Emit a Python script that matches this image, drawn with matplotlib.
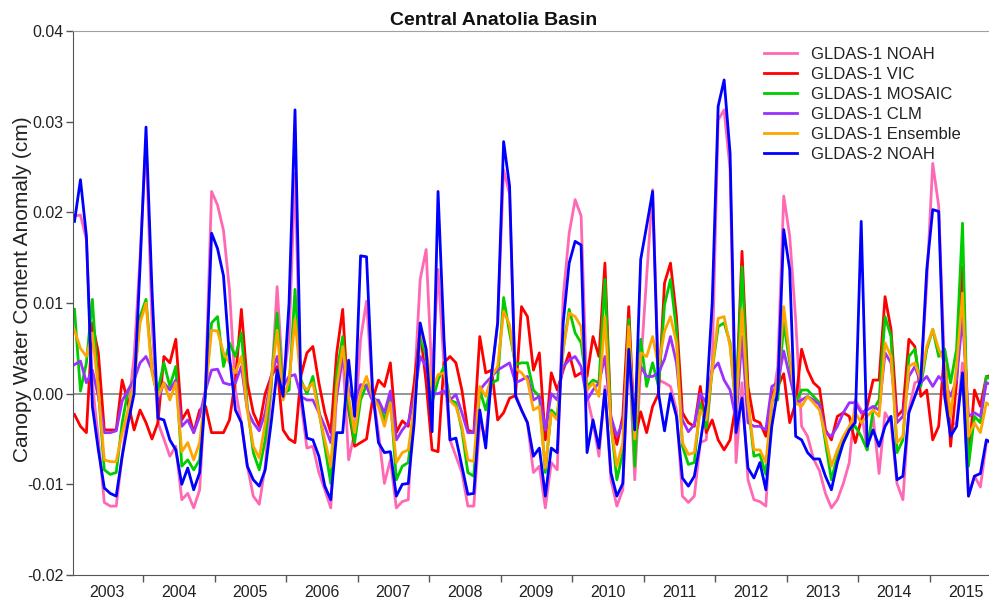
import numpy as np
import matplotlib.pyplot as plt

plt.rcParams['font.family'] = ['Liberation Sans', 'DejaVu Sans']

# monthly canopy water content anomalies (cm), Jan 2003 onwards
years = ['2003', '2004', '2005', '2006', '2007', '2008', '2009',
         '2010', '2011', '2012', '2013', '2014', '2015']

noah1 = [0.0196, 0.0197, 0.0170, 0.0012, -0.0050, -0.0120, -0.0124, -0.0124, -0.0069, -0.0018,
         0.0041, 0.0150, 0.0280, 0.0078, -0.0032, -0.0050, -0.0069, -0.0058, -0.0117, -0.0110,
         -0.0126, -0.0106, 0.0012, 0.0223, 0.0208, 0.0180, 0.0115, 0.0004, -0.0032, -0.0080,
         -0.0113, -0.0122, -0.0080, 0.0004, 0.0118, 0.0012, 0.0060, 0.0243, -0.0010, -0.0060,
         -0.0058, -0.0087, -0.0106, -0.0126, 0.0004, 0.0045, -0.0073, -0.0043, 0.0060, 0.0102,
         0.0004, -0.0043, -0.0099, -0.0073, -0.0126, -0.0119, -0.0117, 0.0004, 0.0126, 0.0159,
         0.0015, 0.0137, 0.0030, -0.0051, -0.0069, -0.0087, -0.0124, -0.0124, -0.0032, -0.0047,
         0.0019, 0.0078, 0.0247, 0.0220, 0.0000, -0.0018, -0.0032, -0.0087, -0.0080, -0.0126,
         -0.0076, -0.0084, 0.0107, 0.0177, 0.0214, 0.0196, -0.0003, -0.0032, -0.0069, 0.0008,
         -0.0095, -0.0124, -0.0106, 0.0056, -0.0095, 0.0030, 0.0129, 0.0225, 0.0015, 0.0012,
         0.0008, -0.0018, -0.0113, -0.0120, -0.0113, -0.0054, -0.0051, 0.0034, 0.0302, 0.0313,
         0.0247, -0.0076, 0.0012, -0.0095, -0.0117, -0.0119, -0.0124, -0.0014, 0.0030, 0.0218,
         0.0174, 0.0082, -0.0036, -0.0047, -0.0072, -0.0085, -0.0110, -0.0126, -0.0117, -0.0099,
         -0.0076, -0.0007, -0.0018, -0.0062, -0.0025, -0.0088, -0.0021, -0.0032, -0.0099, -0.0117,
         -0.0018, 0.0012, 0.0015, 0.0122, 0.0254, 0.0207, 0.0026, -0.0036, -0.0032, 0.0034,
         -0.0113, -0.0091, -0.0103, -0.0054, -0.0050]

vic = [-0.0023, -0.0036, -0.0043, 0.0078, 0.0045, -0.0040, -0.0040, -0.0040, 0.0015, -0.0010,
       -0.0040, -0.0018, -0.0032, -0.0050, -0.0032, 0.0041, 0.0034, 0.0060, -0.0029, -0.0018,
       -0.0043, -0.0018, -0.0014, -0.0043, -0.0043, -0.0043, -0.0029, 0.0015, 0.0093, 0.0012,
       -0.0021, -0.0036, 0.0000, 0.0019, 0.0030, -0.0040, -0.0050, -0.0054, 0.0020, 0.0045,
       0.0052, 0.0012, -0.0021, -0.0043, 0.0045, 0.0093, -0.0018, -0.0058, -0.0054, -0.0050,
       -0.0007, 0.0015, 0.0008, 0.0034, -0.0043, -0.0030, -0.0036, 0.0012, 0.0070, 0.0012,
       -0.0062, -0.0064, 0.0034, 0.0041, 0.0034, 0.0004, -0.0040, -0.0043, 0.0063, 0.0023,
       0.0026, -0.0029, -0.0021, -0.0005, -0.0002, 0.0096, 0.0085, 0.0026, 0.0045, -0.0051,
       0.0023, 0.0004, 0.0026, 0.0045, 0.0019, 0.0023, 0.0019, 0.0063, 0.0041, 0.0144,
       -0.0029, -0.0056, -0.0025, 0.0096, -0.0050, -0.0020, -0.0043, -0.0014, 0.0000, 0.0122,
       0.0144, 0.0085, -0.0021, -0.0032, -0.0036, 0.0008, -0.0043, -0.0029, -0.0051, -0.0062,
       -0.0051, -0.0010, 0.0157, 0.0008, -0.0029, -0.0032, -0.0047, 0.0000, 0.0008, 0.0022,
       -0.0032, -0.0010, 0.0049, 0.0026, 0.0012, 0.0006, -0.0040, -0.0051, -0.0025, -0.0021,
       -0.0025, -0.0054, -0.0029, -0.0014, 0.0015, 0.0015, 0.0107, 0.0071, -0.0025, -0.0018,
       0.0060, 0.0052, -0.0003, 0.0004, -0.0051, -0.0036, 0.0049, -0.0058, 0.0012, 0.0140,
       -0.0076, 0.0004, -0.0014, 0.0019, 0.0020]

mosaic = [0.0093, 0.0003, 0.0034, 0.0104, 0.0004, -0.0084, -0.0089, -0.0087, -0.0032, 0.0004,
          0.0015, 0.0085, 0.0104, 0.0026, 0.0004, 0.0034, 0.0008, 0.0030, -0.0080, -0.0073,
          -0.0084, -0.0073, 0.0004, 0.0078, 0.0085, 0.0030, 0.0056, 0.0041, 0.0067, -0.0014,
          -0.0065, -0.0084, -0.0051, 0.0012, 0.0089, 0.0000, 0.0004, 0.0115, 0.0015, 0.0000,
          0.0019, -0.0018, -0.0058, -0.0099, 0.0023, 0.0063, -0.0014, -0.0054, -0.0007, 0.0010,
          -0.0003, -0.0010, -0.0029, -0.0003, -0.0095, -0.0080, -0.0076, -0.0018, 0.0063, 0.0041,
          -0.0010, 0.0015, 0.0030, -0.0007, -0.0010, -0.0040, -0.0087, -0.0091, 0.0004, -0.0018,
          0.0012, 0.0015, 0.0106, 0.0067, 0.0032, 0.0034, 0.0034, 0.0004, -0.0003, -0.0087,
          -0.0018, -0.0025, 0.0049, 0.0093, 0.0067, 0.0056, 0.0008, 0.0015, 0.0012, 0.0126,
          -0.0032, -0.0095, -0.0065, 0.0082, -0.0080, 0.0060, 0.0008, 0.0034, 0.0008, 0.0098,
          0.0126, 0.0070, -0.0058, -0.0078, -0.0076, -0.0010, -0.0038, 0.0026, 0.0074, 0.0078,
          0.0056, -0.0018, 0.0140, -0.0010, -0.0069, -0.0067, -0.0089, -0.0007, -0.0007, 0.0078,
          0.0034, -0.0010, 0.0004, 0.0004, -0.0003, -0.0010, -0.0054, -0.0095, -0.0069, -0.0054,
          -0.0040, -0.0036, -0.0047, -0.0062, -0.0018, -0.0007, 0.0085, 0.0063, -0.0065, -0.0051,
          0.0041, 0.0049, 0.0008, 0.0049, 0.0071, 0.0041, 0.0049, 0.0012, 0.0049, 0.0188,
          -0.0080, -0.0025, -0.0032, 0.0019, 0.0015]

clm = [0.0032, 0.0036, 0.0012, 0.0026, -0.0003, -0.0043, -0.0043, -0.0041, -0.0008, 0.0004,
       0.0015, 0.0034, 0.0041, 0.0026, -0.0007, 0.0012, 0.0004, 0.0015, -0.0036, -0.0029,
       -0.0043, -0.0025, 0.0004, 0.0026, 0.0027, 0.0012, 0.0010, 0.0012, 0.0030, -0.0018,
       -0.0032, -0.0041, -0.0021, 0.0019, 0.0041, 0.0008, 0.0019, 0.0021, -0.0003, -0.0007,
       -0.0007, -0.0021, -0.0036, -0.0054, -0.0003, 0.0041, 0.0004, -0.0010, 0.0010, 0.0008,
       -0.0008, -0.0007, -0.0021, 0.0003, -0.0051, -0.0040, -0.0032, -0.0003, 0.0041, 0.0030,
       0.0000, 0.0000, 0.0003, -0.0007, -0.0001, -0.0021, -0.0043, -0.0043, 0.0004, 0.0012,
       0.0019, 0.0026, 0.0030, 0.0034, 0.0012, 0.0015, 0.0019, -0.0007, -0.0003, -0.0040,
       0.0000, -0.0007, 0.0030, 0.0037, 0.0041, 0.0030, -0.0007, 0.0004, 0.0012, 0.0041,
       -0.0025, -0.0047, -0.0032, 0.0056, -0.0030, 0.0030, 0.0019, 0.0019, 0.0023, 0.0038,
       0.0063, 0.0034, -0.0029, -0.0042, -0.0034, 0.0000, -0.0010, 0.0026, 0.0034, 0.0015,
       0.0004, -0.0029, 0.0063, -0.0032, -0.0036, -0.0036, -0.0040, 0.0008, 0.0012, 0.0047,
       0.0019, -0.0010, -0.0007, -0.0003, -0.0007, -0.0012, -0.0043, -0.0047, -0.0036, -0.0021,
       -0.0010, -0.0010, -0.0021, -0.0018, -0.0014, -0.0018, 0.0045, 0.0034, -0.0032, -0.0025,
       0.0019, 0.0030, 0.0012, 0.0019, 0.0008, 0.0019, 0.0012, -0.0003, 0.0015, 0.0085,
       -0.0025, -0.0021, -0.0025, 0.0012, 0.0010]

ensemble = [0.0070, 0.0050, 0.0041, 0.0067, 0.0004, -0.0073, -0.0075, -0.0075, -0.0043, -0.0018,
            0.0012, 0.0078, 0.0100, 0.0023, -0.0003, 0.0012, -0.0007, 0.0012, -0.0064, -0.0054,
            -0.0073, -0.0054, 0.0004, 0.0070, 0.0069, 0.0045, 0.0034, 0.0023, 0.0041, -0.0018,
            -0.0058, -0.0071, -0.0032, 0.0015, 0.0070, -0.0007, 0.0015, 0.0082, 0.0012, 0.0004,
            0.0012, -0.0021, -0.0051, -0.0080, 0.0008, 0.0052, -0.0003, -0.0043, 0.0002, 0.0019,
            -0.0003, -0.0014, -0.0036, -0.0010, -0.0076, -0.0065, -0.0062, -0.0014, 0.0070, 0.0049,
            0.0004, 0.0021, 0.0023, -0.0008, -0.0014, -0.0036, -0.0073, -0.0075, 0.0008, -0.0003,
            0.0019, 0.0030, 0.0091, 0.0076, 0.0028, 0.0023, 0.0015, -0.0018, -0.0014, -0.0082,
            -0.0021, -0.0029, 0.0049, 0.0089, 0.0085, 0.0074, 0.0004, 0.0012, -0.0003, 0.0085,
            -0.0036, -0.0080, -0.0054, 0.0074, -0.0050, 0.0045, 0.0041, 0.0063, 0.0030, 0.0069,
            0.0085, 0.0056, -0.0054, -0.0067, -0.0065, -0.0018, -0.0029, 0.0026, 0.0083, 0.0085,
            0.0052, -0.0018, 0.0093, -0.0010, -0.0062, -0.0062, -0.0076, -0.0010, 0.0015, 0.0096,
            0.0041, -0.0010, -0.0014, -0.0003, -0.0010, -0.0018, -0.0047, -0.0080, -0.0062, -0.0047,
            -0.0036, -0.0021, -0.0032, -0.0025, -0.0018, -0.0025, 0.0056, 0.0041, -0.0054, -0.0047,
            0.0030, 0.0034, 0.0015, 0.0052, 0.0071, 0.0049, 0.0034, -0.0025, 0.0030, 0.0111,
            -0.0047, -0.0032, -0.0043, -0.0010, -0.0015]

noah2 = [0.0190, 0.0236, 0.0174, -0.0014, -0.0062, -0.0104, -0.0110, -0.0113, -0.0069, -0.0032,
         0.0000, 0.0140, 0.0294, 0.0115, -0.0027, -0.0029, -0.0051, -0.0062, -0.0100, -0.0082,
         -0.0106, -0.0087, 0.0004, 0.0177, 0.0160, 0.0130, 0.0041, -0.0018, -0.0032, -0.0080,
         -0.0095, -0.0102, -0.0084, -0.0032, 0.0026, -0.0003, 0.0100, 0.0313, 0.0000, -0.0049,
         -0.0051, -0.0069, -0.0102, -0.0117, -0.0043, -0.0043, 0.0037, -0.0025, 0.0152, 0.0151,
         0.0004, -0.0054, -0.0065, -0.0064, -0.0113, -0.0100, -0.0099, -0.0032, 0.0078, 0.0049,
         -0.0042, 0.0223, 0.0060, -0.0051, -0.0049, -0.0080, -0.0111, -0.0110, -0.0018, -0.0060,
         0.0023, 0.0078, 0.0278, 0.0229, -0.0003, -0.0018, -0.0032, -0.0069, -0.0060, -0.0113,
         -0.0060, -0.0065, 0.0078, 0.0144, 0.0168, 0.0164, -0.0065, -0.0029, -0.0060, 0.0004,
         -0.0087, -0.0113, -0.0099, 0.0049, -0.0040, 0.0148, 0.0185, 0.0223, 0.0000, -0.0041,
         0.0000, -0.0025, -0.0093, -0.0102, -0.0091, -0.0054, -0.0010, 0.0100, 0.0317, 0.0346,
         0.0265, -0.0043, -0.0005, -0.0082, -0.0093, -0.0076, -0.0106, -0.0036, 0.0004, 0.0181,
         0.0137, -0.0047, -0.0051, -0.0065, -0.0072, -0.0072, -0.0091, -0.0106, -0.0076, -0.0054,
         -0.0040, -0.0032, 0.0190, -0.0058, -0.0040, -0.0058, -0.0036, -0.0025, -0.0095, -0.0091,
         -0.0021, -0.0003, 0.0015, 0.0137, 0.0203, 0.0201, -0.0003, -0.0047, -0.0036, 0.0023,
         -0.0113, -0.0091, -0.0088, -0.0051, -0.0055]

month = np.arange(len(noah1))          # month index, 0 = Jan 2003

fig = plt.figure(figsize=(9.89, 6.04), dpi=100)
ax = fig.add_axes([0.0743, 0.048, 0.9381, 0.9007])   # runs a little past the right edge

ax.axhline(0, color='#8c8c8c', lw=1.3, zorder=1)
ax.plot(month, noah1, color='#ff69b4', lw=2, label='GLDAS-1 NOAH')
ax.plot(month, vic, color='#ff0000', lw=2, label='GLDAS-1 VIC')
ax.plot(month, mosaic, color='#00cc00', lw=2, label='GLDAS-1 MOSAIC')
ax.plot(month, clm, color='#9b30ff', lw=2, label='GLDAS-1 CLM')
ax.plot(month, ensemble, color='#ffa500', lw=2, label='GLDAS-1 Ensemble')
ax.plot(month, noah2, color='#0000ff', lw=2, label='GLDAS-2 NOAH')

ax.set_xlim(-0.17, 155.5)
ax.set_ylim(-0.02, 0.04)

# y ticks
ax.set_yticks(np.arange(-0.02, 0.0401, 0.01))
ax.set_yticklabels(['%.2f' % v for v in np.arange(-0.02, 0.0401, 0.01)])
ax.tick_params(axis='y', length=5, width=1, color='#555555', pad=2,
               labelsize=11.5, labelcolor='#222222')

# year boundaries as ticks, year names centred between them
ax.set_xticks(np.arange(11.5, 155, 12))
ax.set_xticklabels([])
ax.set_xticks(np.arange(5.5, 156, 12), minor=True)
ax.set_xticklabels(years, minor=True)
ax.tick_params(axis='x', which='major', length=5, width=1, color='#555555')
ax.tick_params(axis='x', which='minor', length=0, pad=7,
               labelsize=11.5, labelcolor='#222222')

ax.spines['right'].set_visible(False)
ax.spines['top'].set_color('#a0a0a0')
ax.spines['left'].set_color('#555555')
ax.spines['bottom'].set_color('#555555')

ax.set_ylabel('Canopy Water Content Anomaly (cm)', fontsize=15, color='#222222')
ax.yaxis.set_label_coords(-0.045, 0.526)

fig.text(0.4995, 0.9586, 'Central Anatolia Basin', ha='center', va='baseline',
         fontsize=14, fontweight='bold', color='#111111')

ax.legend(loc='upper left', bbox_to_anchor=(764 / 989, 1 - 47 / 604),
          bbox_transform=fig.transFigure, frameon=False, fontsize=12,
          handlelength=1.95, handletextpad=0.85, labelspacing=0.3,
          borderpad=0, borderaxespad=0, labelcolor='#222222')

fig.savefig('out.png', dpi=100)
